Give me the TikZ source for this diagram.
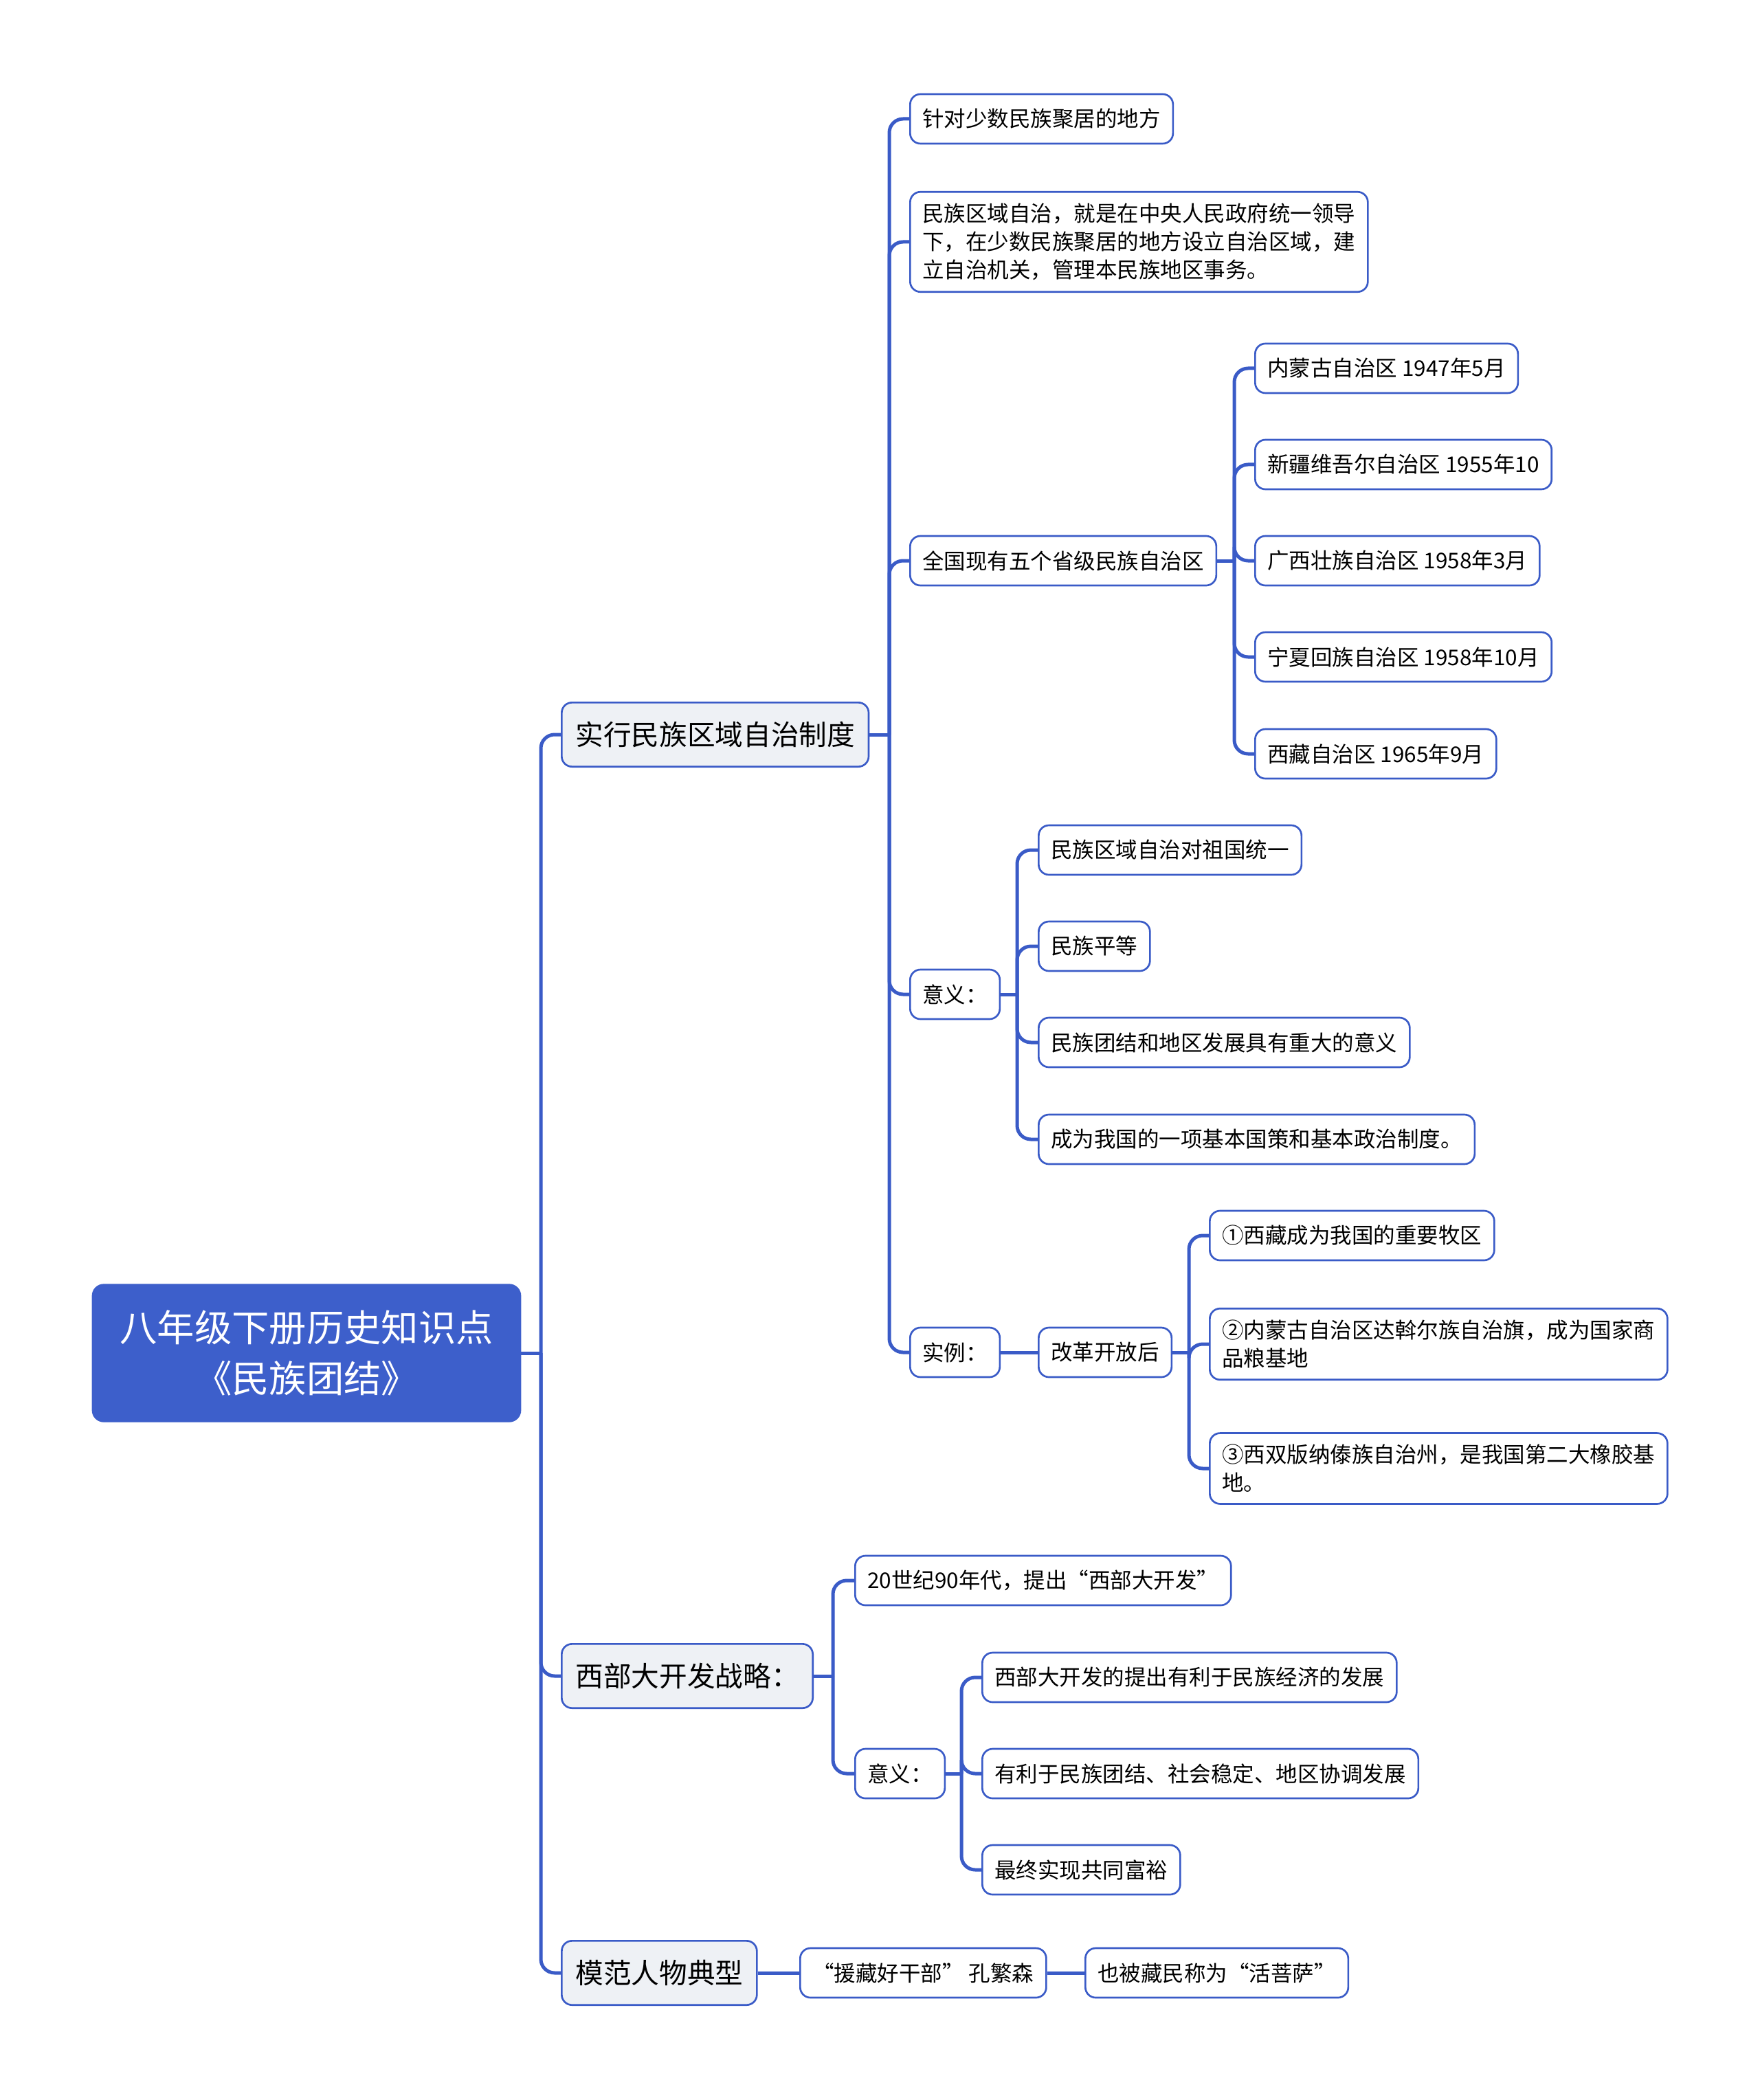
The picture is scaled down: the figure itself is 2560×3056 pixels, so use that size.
\documentclass[tikz,border=0pt]{standalone}
\usepackage{fontspec}
\setmainfont{Noto Sans CJK SC}
\usetikzlibrary{calc}
\definecolor{linkblue}{HTML}{3A5BC7}
\definecolor{rootblue}{HTML}{3D5FCB}
\definecolor{topicgray}{HTML}{EEF1F5}
\tikzstyle{leaf}=[rectangle, rounded corners=4.5pt, draw=linkblue, line width=0.8pt, fill=white, inner xsep=5.4pt, inner ysep=5pt, minimum height=21.6pt, anchor=west, align=left, font=\fontsize{9.45}{12.3}\selectfont]
\tikzstyle{topic}=[leaf, fill=topicgray, inner xsep=6pt, minimum height=28pt, font=\fontsize{12.2}{15}\selectfont]
\tikzstyle{rootbox}=[rectangle, rounded corners=5pt, fill=rootblue, draw=rootblue, text=white, minimum width=187pt, minimum height=60pt, align=center, font=\fontsize{16.3}{22}\selectfont]
\tikzstyle{link}=[draw=linkblue, line width=1.5pt, rounded corners=6pt]

\begin{document}
\begin{tikzpicture}[x=0.3pt, y=-0.3pt]
	\useasboundingbox (0,0) rectangle (2560,3056);

	\node[rootbox](root) at (446,1969){八年级下册历史知识点\\《民族团结》};

	\node[topic](zhidu) at (816,1069){实行民族区域自治制度};
	\node[topic](xibu) at (816,2439){西部大开发战略：};
	\node[topic](mofan) at (816,2871){模范人物典型};

	% 实行民族区域自治制度
	\node[leaf](zd-a) at (1323,173){针对少数民族聚居的地方};
	\node[leaf](zd-b) at (1323,352){民族区域自治，就是在中央人民政府统一领导\\下，在少数民族聚居的地方设立自治区域，建\\立自治机关，管理本民族地区事务。};
	\node[leaf](zd-c) at (1323,816){全国现有五个省级民族自治区};
	\node[leaf](zd-d) at (1323,1447){意义：};
	\node[leaf](zd-e) at (1323,1968){实例：};

	\node[leaf](qu1) at (1825,536){内蒙古自治区 1947年5月};
	\node[leaf](qu2) at (1825,676){新疆维吾尔自治区 1955年10};
	\node[leaf](qu3) at (1825,816){广西壮族自治区 1958年3月};
	\node[leaf](qu4) at (1825,956){宁夏回族自治区 1958年10月};
	\node[leaf](qu5) at (1825,1097){西藏自治区 1965年9月};

	\node[leaf](yy1) at (1510,1237){民族区域自治对祖国统一};
	\node[leaf](yy2) at (1510,1377){民族平等};
	\node[leaf](yy3) at (1510,1517){民族团结和地区发展具有重大的意义};
	\node[leaf](yy4) at (1510,1658){成为我国的一项基本国策和基本政治制度。};

	\node[leaf](gg) at (1510,1968){改革开放后};
	\node[leaf](gg1) at (1759,1798){①西藏成为我国的重要牧区};
	\node[leaf](gg2) at (1759,1956){②内蒙古自治区达斡尔族自治旗，成为国家商\\品粮基地};
	\node[leaf](gg3) at (1759,2137){③西双版纳傣族自治州，是我国第二大橡胶基\\地。};

	% 西部大开发战略
	\node[leaf](xb-a) at (1243,2300){20世纪90年代，提出“西部大开发”};
	\node[leaf](xb-b) at (1243,2581){意义：};
	\node[leaf](xy1) at (1428,2441){西部大开发的提出有利于民族经济的发展};
	\node[leaf](xy2) at (1428,2581){有利于民族团结、社会稳定、地区协调发展};
	\node[leaf](xy3) at (1428,2721){最终实现共同富裕};

	% 模范人物典型
	\node[leaf](mf1) at (1163,2871){“援藏好干部” 孔繁森};
	\node[leaf](mf2) at (1578,2871){也被藏民称为“活菩萨”};

	\coordinate (sp) at (787,1969);
	\coordinate (b1) at (1294,1069);
	\coordinate (b2) at (1796,816);
	\coordinate (b3) at (1480,1447);
	\coordinate (b4) at (1730,1968);
	\coordinate (b5) at (1212,2439);
	\coordinate (b6) at (1399,2581);

	\draw[link] (root.east) -- (sp);
	\foreach \c in {zhidu,xibu,mofan} \draw[link] (sp) |- (\c.west);
	\draw[link] (zhidu.east) -- (b1);
	\foreach \c in {zd-a,zd-b,zd-c,zd-d,zd-e} \draw[link] (b1) |- (\c.west);
	\draw[link] (zd-c.east) -- (b2);
	\foreach \c in {qu1,qu2,qu3,qu4,qu5} \draw[link] (b2) |- (\c.west);
	\draw[link] (zd-d.east) -- (b3);
	\foreach \c in {yy1,yy2,yy3,yy4} \draw[link] (b3) |- (\c.west);
	\draw[link] (zd-e.east) -- (gg.west);
	\draw[link] (gg.east) -- (b4);
	\foreach \c in {gg1,gg2,gg3} \draw[link] (b4) |- (\c.west);
	\draw[link] (xibu.east) -- (b5);
	\foreach \c in {xb-a,xb-b} \draw[link] (b5) |- (\c.west);
	\draw[link] (xb-b.east) -- (b6);
	\foreach \c in {xy1,xy2,xy3} \draw[link] (b6) |- (\c.west);
	\draw[link] (mofan.east) -- (mf1.west);
	\draw[link] (mf1.east) -- (mf2.west);

\end{tikzpicture}
\end{document}
